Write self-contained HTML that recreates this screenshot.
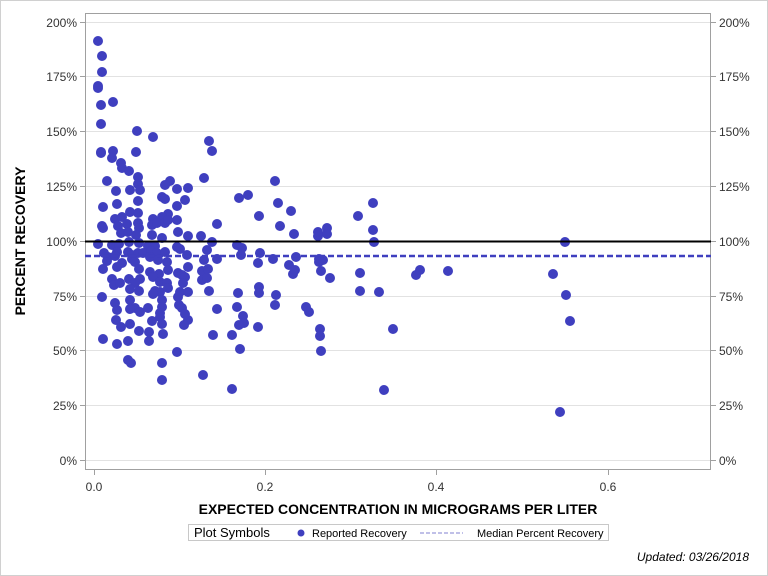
<!DOCTYPE html>
<html><head><meta charset="utf-8"><style>
html,body{margin:0;padding:0;background:#fff}
svg{display:block;font-family:"Liberation Sans",sans-serif}
</style></head><body>
<svg width="768" height="576" viewBox="0 0 768 576" xmlns="http://www.w3.org/2000/svg">
<rect x="0.5" y="0.5" width="767" height="575" fill="#fff" stroke="#d0d0d0"/>
<g stroke="#e2e2e2" stroke-width="1">
<line x1="85" x2="711" y1="460.5" y2="460.5"/>
<line x1="85" x2="711" y1="405.5" y2="405.5"/>
<line x1="85" x2="711" y1="350.5" y2="350.5"/>
<line x1="85" x2="711" y1="296.5" y2="296.5"/>
<line x1="85" x2="711" y1="186.5" y2="186.5"/>
<line x1="85" x2="711" y1="131.5" y2="131.5"/>
<line x1="85" x2="711" y1="76.5" y2="76.5"/>
<line x1="85" x2="711" y1="22.5" y2="22.5"/>
</g>
<rect x="85.5" y="13.5" width="625" height="456" fill="none" stroke="#a0a0a0"/>
<g stroke="#a0a0a0">
<line x1="80" x2="85" y1="460.5" y2="460.5"/><line x1="80" x2="85" y1="405.5" y2="405.5"/><line x1="80" x2="85" y1="350.5" y2="350.5"/><line x1="80" x2="85" y1="296.5" y2="296.5"/><line x1="80" x2="85" y1="241.5" y2="241.5"/><line x1="80" x2="85" y1="186.5" y2="186.5"/><line x1="80" x2="85" y1="131.5" y2="131.5"/><line x1="80" x2="85" y1="76.5" y2="76.5"/><line x1="80" x2="85" y1="22.5" y2="22.5"/>
<line x1="711" x2="716" y1="460.5" y2="460.5"/><line x1="711" x2="716" y1="405.5" y2="405.5"/><line x1="711" x2="716" y1="350.5" y2="350.5"/><line x1="711" x2="716" y1="296.5" y2="296.5"/><line x1="711" x2="716" y1="241.5" y2="241.5"/><line x1="711" x2="716" y1="186.5" y2="186.5"/><line x1="711" x2="716" y1="131.5" y2="131.5"/><line x1="711" x2="716" y1="76.5" y2="76.5"/><line x1="711" x2="716" y1="22.5" y2="22.5"/>
<line x1="94.5" x2="94.5" y1="469" y2="475"/><line x1="265.5" x2="265.5" y1="469" y2="475"/><line x1="436.5" x2="436.5" y1="469" y2="475"/><line x1="608.5" x2="608.5" y1="469" y2="475"/>
</g>
<g font-size="12" fill="#333" text-anchor="end">
<text x="77" y="465">0%</text><text x="77" y="410">25%</text><text x="77" y="355">50%</text><text x="77" y="301">75%</text><text x="77" y="246">100%</text><text x="77" y="191">125%</text><text x="77" y="136">150%</text><text x="77" y="81">175%</text><text x="77" y="27">200%</text>
</g>
<g font-size="12" fill="#333" text-anchor="start">
<text x="719" y="465">0%</text><text x="719" y="410">25%</text><text x="719" y="355">50%</text><text x="719" y="301">75%</text><text x="719" y="246">100%</text><text x="719" y="191">125%</text><text x="719" y="136">150%</text><text x="719" y="81">175%</text><text x="719" y="27">200%</text>
</g>
<g font-size="12" fill="#333" text-anchor="middle">
<text x="94" y="491">0.0</text><text x="265" y="491">0.2</text><text x="436" y="491">0.4</text><text x="608" y="491">0.6</text>
</g>
<text x="398" y="514" font-size="14" font-weight="bold" text-anchor="middle" fill="#000">EXPECTED CONCENTRATION IN MICROGRAMS PER LITER</text>
<text transform="translate(25,241) rotate(-90)" font-size="14" font-weight="bold" text-anchor="middle" fill="#000">PERCENT RECOVERY</text>
<g fill="#3f3fbf">
<circle cx="98" cy="41" r="5"/><circle cx="102" cy="56" r="5"/><circle cx="102" cy="72" r="5"/><circle cx="98" cy="86" r="5"/><circle cx="98" cy="88" r="5"/><circle cx="101" cy="105" r="5"/><circle cx="113" cy="102" r="5"/>
<circle cx="101" cy="124" r="5"/><circle cx="137" cy="131" r="5"/><circle cx="153" cy="137" r="5"/><circle cx="101" cy="152" r="5"/><circle cx="101" cy="153" r="5"/><circle cx="113" cy="151" r="5"/><circle cx="112" cy="158" r="5"/><circle cx="136" cy="152" r="5"/><circle cx="121" cy="163" r="5"/><circle cx="122" cy="168" r="5"/><circle cx="129" cy="171" r="5"/><circle cx="138" cy="177" r="5"/><circle cx="209" cy="141" r="5"/><circle cx="212" cy="151" r="5"/><circle cx="107" cy="181" r="5"/><circle cx="170" cy="181" r="5"/><circle cx="165" cy="185" r="5"/><circle cx="138" cy="184" r="5"/><circle cx="140" cy="190" r="5"/><circle cx="130" cy="190" r="5"/><circle cx="177" cy="189" r="5"/><circle cx="188" cy="188" r="5"/><circle cx="204" cy="178" r="5"/><circle cx="116" cy="191" r="5"/><circle cx="162" cy="197" r="5"/><circle cx="165" cy="199" r="5"/><circle cx="138" cy="201" r="5"/><circle cx="185" cy="200" r="5"/><circle cx="239" cy="198" r="5"/><circle cx="248" cy="195" r="5"/><circle cx="117" cy="204" r="5"/><circle cx="103" cy="207" r="5"/><circle cx="177" cy="206" r="5"/><circle cx="130" cy="212" r="5"/><circle cx="138" cy="213" r="5"/><circle cx="168" cy="214" r="5"/><circle cx="162" cy="217" r="5"/><circle cx="153" cy="219" r="5"/><circle cx="115" cy="219" r="5"/><circle cx="122" cy="217" r="5"/><circle cx="259" cy="216" r="5"/><circle cx="177" cy="220" r="5"/><circle cx="217" cy="224" r="5"/><circle cx="102" cy="226" r="5"/><circle cx="103" cy="228" r="5"/><circle cx="118" cy="226" r="5"/><circle cx="127" cy="224" r="5"/><circle cx="138" cy="223" r="5"/><circle cx="139" cy="228" r="5"/><circle cx="152" cy="225" r="5"/><circle cx="157" cy="223" r="5"/><circle cx="165" cy="223" r="5"/><circle cx="168" cy="220" r="5"/><circle cx="178" cy="232" r="5"/><circle cx="121" cy="233" r="5"/><circle cx="128" cy="232" r="5"/><circle cx="136" cy="235" r="5"/><circle cx="188" cy="236" r="5"/><circle cx="201" cy="236" r="5"/><circle cx="152" cy="235" r="5"/><circle cx="162" cy="238" r="5"/><circle cx="98" cy="244" r="5"/><circle cx="112" cy="245" r="5"/><circle cx="119" cy="244" r="5"/><circle cx="129" cy="242" r="5"/><circle cx="139" cy="243" r="5"/><circle cx="148" cy="246" r="5"/><circle cx="155" cy="246" r="5"/><circle cx="212" cy="242" r="5"/><circle cx="237" cy="245" r="5"/><circle cx="242" cy="248" r="5"/><circle cx="177" cy="247" r="5"/><circle cx="180" cy="249" r="5"/><circle cx="207" cy="250" r="5"/><circle cx="104" cy="253" r="5"/><circle cx="108" cy="257" r="5"/><circle cx="117" cy="252" r="5"/><circle cx="115" cy="256" r="5"/><circle cx="128" cy="252" r="5"/><circle cx="132" cy="255" r="5"/><circle cx="138" cy="253" r="5"/><circle cx="143" cy="253" r="5"/><circle cx="151" cy="251" r="5"/><circle cx="157" cy="253" r="5"/><circle cx="165" cy="252" r="5"/><circle cx="187" cy="255" r="5"/><circle cx="241" cy="255" r="5"/><circle cx="260" cy="253" r="5"/><circle cx="107" cy="261" r="5"/><circle cx="122" cy="263" r="5"/><circle cx="117" cy="267" r="5"/><circle cx="132" cy="259" r="5"/><circle cx="135" cy="262" r="5"/><circle cx="150" cy="257" r="5"/><circle cx="158" cy="260" r="5"/><circle cx="167" cy="262" r="5"/><circle cx="204" cy="260" r="5"/><circle cx="217" cy="259" r="5"/><circle cx="258" cy="263" r="5"/><circle cx="103" cy="269" r="5"/><circle cx="139" cy="269" r="5"/><circle cx="150" cy="272" r="5"/><circle cx="159" cy="274" r="5"/><circle cx="168" cy="270" r="5"/><circle cx="188" cy="267" r="5"/><circle cx="178" cy="273" r="5"/><circle cx="182" cy="275" r="5"/><circle cx="202" cy="271" r="5"/><circle cx="208" cy="269" r="5"/><circle cx="112" cy="279" r="5"/><circle cx="114" cy="285" r="5"/><circle cx="120" cy="283" r="5"/><circle cx="129" cy="279" r="5"/><circle cx="140" cy="279" r="5"/><circle cx="135" cy="283" r="5"/><circle cx="153" cy="277" r="5"/><circle cx="160" cy="282" r="5"/><circle cx="167" cy="283" r="5"/><circle cx="185" cy="277" r="5"/><circle cx="183" cy="283" r="5"/><circle cx="202" cy="280" r="5"/><circle cx="207" cy="278" r="5"/><circle cx="130" cy="289" r="5"/><circle cx="139" cy="291" r="5"/><circle cx="155" cy="291" r="5"/><circle cx="160" cy="292" r="5"/><circle cx="168" cy="288" r="5"/><circle cx="180" cy="292" r="5"/><circle cx="188" cy="292" r="5"/><circle cx="209" cy="291" r="5"/><circle cx="259" cy="287" r="5"/><circle cx="259" cy="293" r="5"/><circle cx="102" cy="297" r="5"/><circle cx="153" cy="294" r="5"/><circle cx="178" cy="297" r="5"/><circle cx="238" cy="293" r="5"/><circle cx="115" cy="303" r="5"/><circle cx="117" cy="310" r="5"/><circle cx="130" cy="300" r="5"/><circle cx="135" cy="308" r="5"/><circle cx="130" cy="309" r="5"/><circle cx="140" cy="312" r="5"/><circle cx="148" cy="308" r="5"/><circle cx="162" cy="300" r="5"/><circle cx="162" cy="307" r="5"/><circle cx="179" cy="305" r="5"/><circle cx="182" cy="308" r="5"/><circle cx="160" cy="313" r="5"/><circle cx="217" cy="309" r="5"/><circle cx="237" cy="307" r="5"/><circle cx="116" cy="320" r="5"/><circle cx="188" cy="320" r="5"/><circle cx="185" cy="314" r="5"/><circle cx="243" cy="316" r="5"/><circle cx="244" cy="323" r="5"/><circle cx="152" cy="321" r="5"/><circle cx="160" cy="317" r="5"/><circle cx="121" cy="327" r="5"/><circle cx="130" cy="324" r="5"/><circle cx="162" cy="324" r="5"/><circle cx="184" cy="325" r="5"/><circle cx="239" cy="325" r="5"/><circle cx="258" cy="327" r="5"/><circle cx="139" cy="331" r="5"/><circle cx="149" cy="332" r="5"/><circle cx="149" cy="341" r="5"/><circle cx="163" cy="334" r="5"/><circle cx="213" cy="335" r="5"/><circle cx="232" cy="335" r="5"/><circle cx="103" cy="339" r="5"/><circle cx="117" cy="344" r="5"/><circle cx="128" cy="341" r="5"/><circle cx="177" cy="352" r="5"/><circle cx="240" cy="349" r="5"/><circle cx="128" cy="360" r="5"/><circle cx="131" cy="363" r="5"/><circle cx="162" cy="363" r="5"/><circle cx="162" cy="380" r="5"/><circle cx="203" cy="375" r="5"/><circle cx="232" cy="389" r="5"/>
<circle cx="275" cy="181" r="5"/><circle cx="278" cy="203" r="5"/><circle cx="280" cy="226" r="5"/><circle cx="273" cy="259" r="5"/><circle cx="276" cy="295" r="5"/><circle cx="275" cy="305" r="5"/><circle cx="294" cy="234" r="5"/><circle cx="291" cy="211" r="5"/><circle cx="289" cy="265" r="5"/><circle cx="293" cy="274" r="5"/><circle cx="295" cy="270" r="5"/><circle cx="296" cy="257" r="5"/><circle cx="309" cy="312" r="5"/><circle cx="306" cy="307" r="5"/><circle cx="318" cy="236" r="5"/><circle cx="318" cy="232" r="5"/><circle cx="319" cy="259" r="5"/><circle cx="319" cy="262" r="5"/><circle cx="321" cy="271" r="5"/><circle cx="320" cy="329" r="5"/><circle cx="320" cy="336" r="5"/><circle cx="321" cy="351" r="5"/><circle cx="323" cy="260" r="5"/><circle cx="327" cy="228" r="5"/><circle cx="327" cy="234" r="5"/><circle cx="330" cy="278" r="5"/><circle cx="358" cy="216" r="5"/><circle cx="360" cy="273" r="5"/><circle cx="360" cy="291" r="5"/><circle cx="373" cy="203" r="5"/><circle cx="373" cy="230" r="5"/><circle cx="374" cy="242" r="5"/><circle cx="379" cy="292" r="5"/><circle cx="384" cy="390" r="5"/><circle cx="393" cy="329" r="5"/><circle cx="416" cy="275" r="5"/><circle cx="420" cy="270" r="5"/><circle cx="448" cy="271" r="5"/><circle cx="553" cy="274" r="5"/><circle cx="560" cy="412" r="5"/><circle cx="565" cy="242" r="5"/><circle cx="566" cy="295" r="5"/><circle cx="570" cy="321" r="5"/>
</g>
<line x1="85" x2="711" y1="241.5" y2="241.5" stroke="#000" stroke-width="2"/>
<line x1="85" x2="711" y1="256" y2="256" stroke="#3f3fbf" stroke-width="2.5" stroke-dasharray="6,3"/>
<rect x="188.5" y="524.5" width="420" height="16" fill="#fff" stroke="#c8c8c8"/>
<text x="194" y="537" font-size="13" fill="#000">Plot Symbols</text>
<circle cx="301" cy="533" r="3.5" fill="#3f3fbf"/>
<text x="312" y="537" font-size="11" fill="#000">Reported Recovery</text>
<line x1="420" x2="463" y1="533" y2="533" stroke="#8080d0" stroke-dasharray="4,2"/>
<text x="477" y="537" font-size="11" fill="#000">Median Percent Recovery</text>
<text x="749" y="561" font-size="12" font-style="italic" text-anchor="end" fill="#000">Updated: 03/26/2018</text>
</svg>
</body></html>
